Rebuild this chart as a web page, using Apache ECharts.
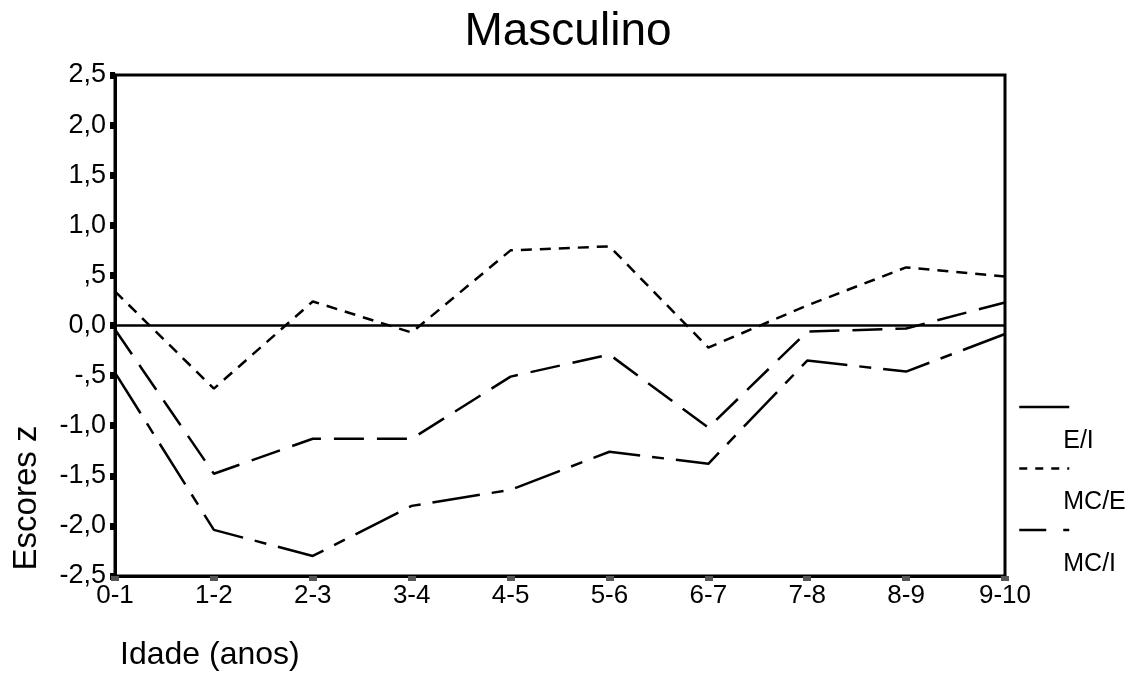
<!DOCTYPE html>
<html>
<head>
<meta charset="utf-8">
<script src="https://cdn.jsdelivr.net/npm/echarts@6/dist/echarts.min.js"></script>
<style>
html,body{margin:0;padding:0;background:#fff;}
#chart{width:1136px;height:683px;}
</style>
</head>
<body>
<div id="chart"></div>
<script>
// ---- data ----
const titleText = 'Masculino';
const categories = ['0-1','1-2','2-3','3-4','4-5','5-6','6-7','7-8','8-9','9-10'];
const seriesNames = ['E/I','MC/E','MC/I'];
const valuesEI  = [-0.04, -1.48, -1.13, -1.13, -0.51, -0.29, -1.02, -0.06, -0.03, 0.23];
const valuesMCE = [0.34, -0.63, 0.24, -0.07, 0.75, 0.79, -0.22, 0.20, 0.58, 0.49];
const valuesMCI = [-0.47, -2.04, -2.30, -1.80, -1.64, -1.26, -1.38, -0.35, -0.46, -0.085];
const yTickLabels = ['-2,5','-2,0','-1,5','-1,0','-,5','0,0',',5','1,0','1,5','2,0','2,5'];
const yAxisTitle = 'Escores z';
const xAxisTitle = 'Idade (anos)';

const FONT = 'Liberation Sans, Arial, sans-serif';
const chart = echarts.init(document.getElementById('chart'), null, {renderer: 'canvas'});

const option = {
  backgroundColor: '#fff',
  animation: false,
  title: {
    text: titleText,
    left: 'center',
    top: 9,
    padding: 0,
    textStyle: {fontFamily: FONT, fontSize: 46, fontWeight: 'normal', color: '#000'}
  },
  grid: {
    left: 115, right: 131, top: 75, bottom: 107,
    show: true, borderColor: '#000', borderWidth: 3, backgroundColor: 'transparent'
  },
  legend: {
    orient: 'vertical',
    left: 1018,
    top: 356,
    padding: 0,
    itemGap: -40.5,
    itemWidth: 50,
    itemHeight: 14,
    selectedMode: false,
    itemStyle: {color: 'rgba(0,0,0,0)', opacity: 0, borderWidth: 0},
    textStyle: {fontFamily: FONT, fontSize: 25, color: '#000', lineHeight: 34, padding: [0, 0, 0, -11]},
    formatter: function (name) { return '\n\n' + name; },
    data: [
      {name: seriesNames[0], lineStyle: {type: 'solid', width: 2.5, color: '#000'}},
      {name: seriesNames[1], lineStyle: {type: [8, 8], width: 2.5, color: '#000'}},
      {name: seriesNames[2], lineStyle: {type: [27, 17, 6, 10], width: 2.5, color: '#000'}}
    ]
  },
  xAxis: {
    type: 'category',
    data: categories,
    boundaryGap: false,
    axisLine: {show: true, onZero: false, lineStyle: {color: '#000', width: 3}},
    axisTick: {show: true, length: 5, lineStyle: {color: '#555', width: 8}},
    axisLabel: {fontFamily: FONT, fontSize: 26, color: '#000', margin: 7},
    splitLine: {show: false}
  },
  yAxis: {
    type: 'value',
    min: -2.5, max: 2.5, interval: 0.5,
    axisLine: {show: true, lineStyle: {color: '#000', width: 3}},
    axisTick: {show: true, length: 5, lineStyle: {color: '#000', width: 7}},
    axisLabel: {
      fontFamily: FONT, fontSize: 27, color: '#000', margin: 9,
      formatter: function (v) { return yTickLabels[Math.round((v + 2.5) / 0.5)]; }
    },
    splitLine: {show: false}
  },
  graphic: [
    {
      type: 'text', x: 27, y: 498, rotation: Math.PI / 2,
      style: {text: yAxisTitle, font: '33px ' + FONT, fill: '#000', align: 'center', verticalAlign: 'middle'}
    },
    {
      type: 'text', x: 120, y: 655,
      style: {text: xAxisTitle, font: '32px ' + FONT, fill: '#000', align: 'left', verticalAlign: 'middle'}
    }
  ],
  series: [
    {
      name: seriesNames[0], type: 'line', data: valuesEI, symbol: 'none',
      color: '#000',
      lineStyle: {color: '#000', width: 2.5, type: [30, 13]},
      markLine: {
        silent: true, symbol: 'none', label: {show: false},
        lineStyle: {type: 'solid', color: '#000', width: 2.5},
        data: [{yAxis: 0}]
      },
      z: 3
    },
    {
      name: seriesNames[1], type: 'line', data: valuesMCE, symbol: 'none',
      color: '#000',
      lineStyle: {color: '#000', width: 2.5, type: [11, 8]},
      z: 3
    },
    {
      name: seriesNames[2], type: 'line', data: valuesMCI, symbol: 'none',
      color: '#000',
      lineStyle: {color: '#000', width: 2.5, type: [48, 12, 12, 12]},
      z: 3
    }
  ]
};
chart.setOption(option);
</script>
</body>
</html>
